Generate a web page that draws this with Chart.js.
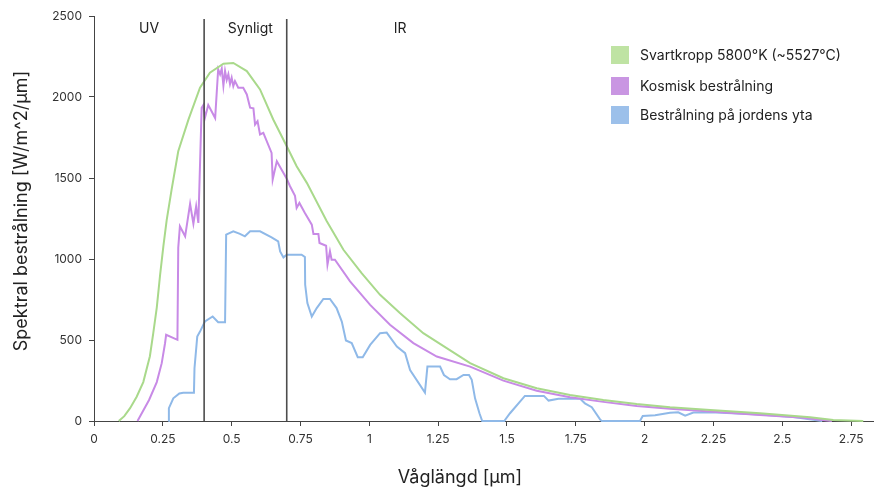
<!DOCTYPE html>
<html>
<head>
<meta charset="utf-8">
<script src="https://cdn.jsdelivr.net/npm/chart.js@4.4.0/dist/chart.umd.min.js"></script>
<style>
  html, body { margin: 0; padding: 0; background: #fff; }
  canvas { display: block; }
</style>
</head>
<body>
<canvas id="chart" width="874" height="490"></canvas>
<script>
// Svartkropp 5800°K
const svartX = [0.09, 0.11, 0.131, 0.155, 0.179, 0.203, 0.215, 0.228, 0.24, 0.252, 0.264, 0.282, 0.306, 0.343, 0.385, 0.421, 0.47, 0.506, 0.555, 0.603, 0.651, 0.706, 0.736, 0.773, 0.845, 0.906, 0.972, 1.039, 1.111, 1.196, 1.281, 1.366, 1.487, 1.608, 1.729, 1.85, 1.971, 2.092, 2.238, 2.419, 2.601, 2.685, 2.794];
const svartY = [0, 30, 79, 150, 240, 400, 540, 700, 900, 1080, 1240, 1430, 1665, 1860, 2058, 2150, 2205, 2210, 2160, 2047, 1861, 1676, 1573, 1470, 1235, 1057, 913, 779, 666, 542, 450, 357, 264, 202, 161, 130, 105, 85, 68, 48, 23, 6, 0];

// Kosmisk bestrålning
const kosmiskX = [0.158, 0.2, 0.228, 0.246, 0.258, 0.262, 0.303, 0.306, 0.312, 0.331, 0.349, 0.361, 0.371, 0.379, 0.391, 0.397, 0.403, 0.415, 0.44, 0.451, 0.458, 0.464, 0.47, 0.476, 0.482, 0.488, 0.494, 0.5, 0.506, 0.512, 0.524, 0.542, 0.555, 0.567, 0.579, 0.585, 0.594, 0.603, 0.615, 0.645, 0.649, 0.664, 0.7, 0.712, 0.73, 0.736, 0.746, 0.766, 0.791, 0.797, 0.815, 0.819, 0.843, 0.848, 0.857, 0.863, 0.875, 0.93, 1.003, 1.075, 1.16, 1.245, 1.366, 1.487, 1.608, 1.729, 1.85, 1.971, 2.092, 2.238, 2.419, 2.565, 2.68];
const kosmiskY = [0, 130, 240, 357, 480, 532, 501, 1070, 1202, 1140, 1340, 1218, 1326, 1223, 1934, 1950, 1872, 1950, 1870, 2171, 2140, 2175, 2070, 2160, 2105, 2140, 2080, 2119, 2067, 2098, 2057, 2057, 2016, 1934, 1930, 1830, 1851, 1769, 1779, 1655, 1490, 1604, 1495, 1449, 1390, 1315, 1346, 1284, 1212, 1155, 1155, 1099, 1082, 965, 1047, 996, 996, 862, 717, 594, 481, 398, 336, 249, 187, 146, 118, 93, 76, 58, 37, 21, 0];

// Bestrålning på jordens yta
const ytaX = [0.27, 0.272, 0.288, 0.31, 0.324, 0.363, 0.365, 0.375, 0.385, 0.403, 0.431, 0.451, 0.476, 0.48, 0.506, 0.53, 0.548, 0.567, 0.603, 0.645, 0.669, 0.676, 0.688, 0.7, 0.754, 0.766, 0.767, 0.775, 0.791, 0.809, 0.833, 0.857, 0.881, 0.9, 0.915, 0.936, 0.958, 0.976, 1.003, 1.039, 1.063, 1.1, 1.13, 1.148, 1.202, 1.211, 1.257, 1.271, 1.293, 1.317, 1.342, 1.362, 1.372, 1.384, 1.4, 1.41, 1.49, 1.511, 1.565, 1.634, 1.651, 1.687, 1.765, 1.783, 1.808, 1.838, 1.844, 1.983, 1.993, 2.038, 2.092, 2.122, 2.147, 2.177, 2.238, 2.419, 2.54, 2.645];
const ytaY = [0, 79, 140, 170, 175, 175, 326, 521, 552, 614, 645, 610, 610, 1150, 1171, 1155, 1140, 1171, 1171, 1134, 1109, 1047, 1010, 1027, 1027, 1012, 841, 728, 645, 697, 753, 753, 697, 614, 497, 481, 394, 394, 470, 542, 546, 460, 419, 315, 175, 336, 336, 284, 258, 258, 284, 284, 254, 140, 48, 0, 0, 48, 155, 155, 126, 138, 138, 109, 85, 10, 0, 0, 31, 35, 51, 54, 33, 52, 54, 40, 24, 0];

const seriesNames = ['Svartkropp 5800°K (~5527°C)', 'Kosmisk bestrålning', 'Bestrålning på jordens yta'];
const lineColors = ['#a9d98b', '#c88ae6', '#8fb9e8'];
const legendColors = ['#bfe3a3', '#c996e2', '#9cc0ea'];

const regionBorders = [0.4, 0.7];
const regionNames = ['UV', 'Synligt', 'IR'];

const xTitle = 'Våglängd [μm]';
const yTitle = 'Spektral bestrålning [W/m^2/μm]';

const FONT = 'Inter, "Noto Sans", sans-serif';

function zip(xs, ys) {
	return xs.map((v, i) => ({x: v, y: ys[i]}));
}

const seriesData = [zip(svartX, svartY), zip(kosmiskX, kosmiskY), zip(ytaX, ytaY)];

// vertical region lines, region names, legend and axis titles
const overlay = {
	id: 'overlay',
	afterDatasetsDraw(chart) {
		const {ctx, chartArea, scales} = chart;
		const x = scales.x;
		ctx.save();

		ctx.strokeStyle = '#4d4d4d';
		ctx.lineWidth = 1.6;
		regionBorders.forEach(v => {
			const px = x.getPixelForValue(v);
			ctx.beginPath();
			ctx.moveTo(px, chartArea.top + 3);
			ctx.lineTo(px, chartArea.bottom);
			ctx.stroke();
		});

		ctx.font = '14px ' + FONT;
		ctx.fillStyle = '#222';
		ctx.textAlign = 'center';
		ctx.textBaseline = 'middle';
		const labelAt = [0.2, 0.568, 1.112];
		regionNames.forEach((name, i) => {
			ctx.fillText(name, x.getPixelForValue(labelAt[i]), 29);
		});

		// legend
		ctx.textAlign = 'left';
		const rows = [55, 86, 115];
		seriesNames.forEach((name, i) => {
			ctx.fillStyle = legendColors[i];
			ctx.fillRect(611, rows[i] - 9, 18, 18);
			ctx.fillStyle = '#222';
			ctx.fillText(name, 640, rows[i] + 1);
		});

		// axis titles
		ctx.font = '18px ' + FONT;
		ctx.fillStyle = '#222';
		ctx.textAlign = 'center';
		ctx.fillText(xTitle, 460, 478);
		ctx.translate(22, 211);
		ctx.rotate(-Math.PI / 2);
		ctx.fillText(yTitle, 0, 0);

		ctx.restore();
	}
};

new Chart(document.getElementById('chart'), {
	type: 'line',
	data: {
		datasets: seriesData.map((d, i) => ({
			label: seriesNames[i],
			data: d,
			borderColor: lineColors[i],
			backgroundColor: lineColors[i],
			borderWidth: 2,
			pointRadius: 0,
			tension: 0,
			fill: false,
			clip: false
		}))
	},
	options: {
		responsive: false,
		animation: false,
		devicePixelRatio: 1,
		layout: {padding: {top: 16, right: 0, left: 0, bottom: 0}},
		plugins: {
			legend: {display: false},
			tooltip: {enabled: false}
		},
		scales: {
			x: {
				type: 'linear',
				min: 0,
				max: 2.833,
				afterFit(scale) { scale.height = 69; },
				ticks: {
					stepSize: 0.25,
					includeBounds: false,
					maxRotation: 0,
					autoSkip: false,
					padding: 6,
					color: '#333',
					font: {family: FONT, size: 12},
					callback: v => String(+v.toFixed(2))
				},
				grid: {display: true, drawOnChartArea: false, drawTicks: true, tickLength: 5, color: '#444'},
				border: {display: true, color: '#444', width: 1}
			},
			y: {
				min: 0,
				max: 2500,
				afterFit(scale) { scale.width = 94; },
				ticks: {
					stepSize: 500,
					padding: 7,
					color: '#333',
					font: {family: FONT, size: 12},
					callback: v => String(v)
				},
				grid: {display: true, drawOnChartArea: false, drawTicks: true, tickLength: 5, color: '#444'},
				border: {display: true, color: '#444', width: 1}
			}
		}
	},
	plugins: [overlay]
});
</script>
</body>
</html>
